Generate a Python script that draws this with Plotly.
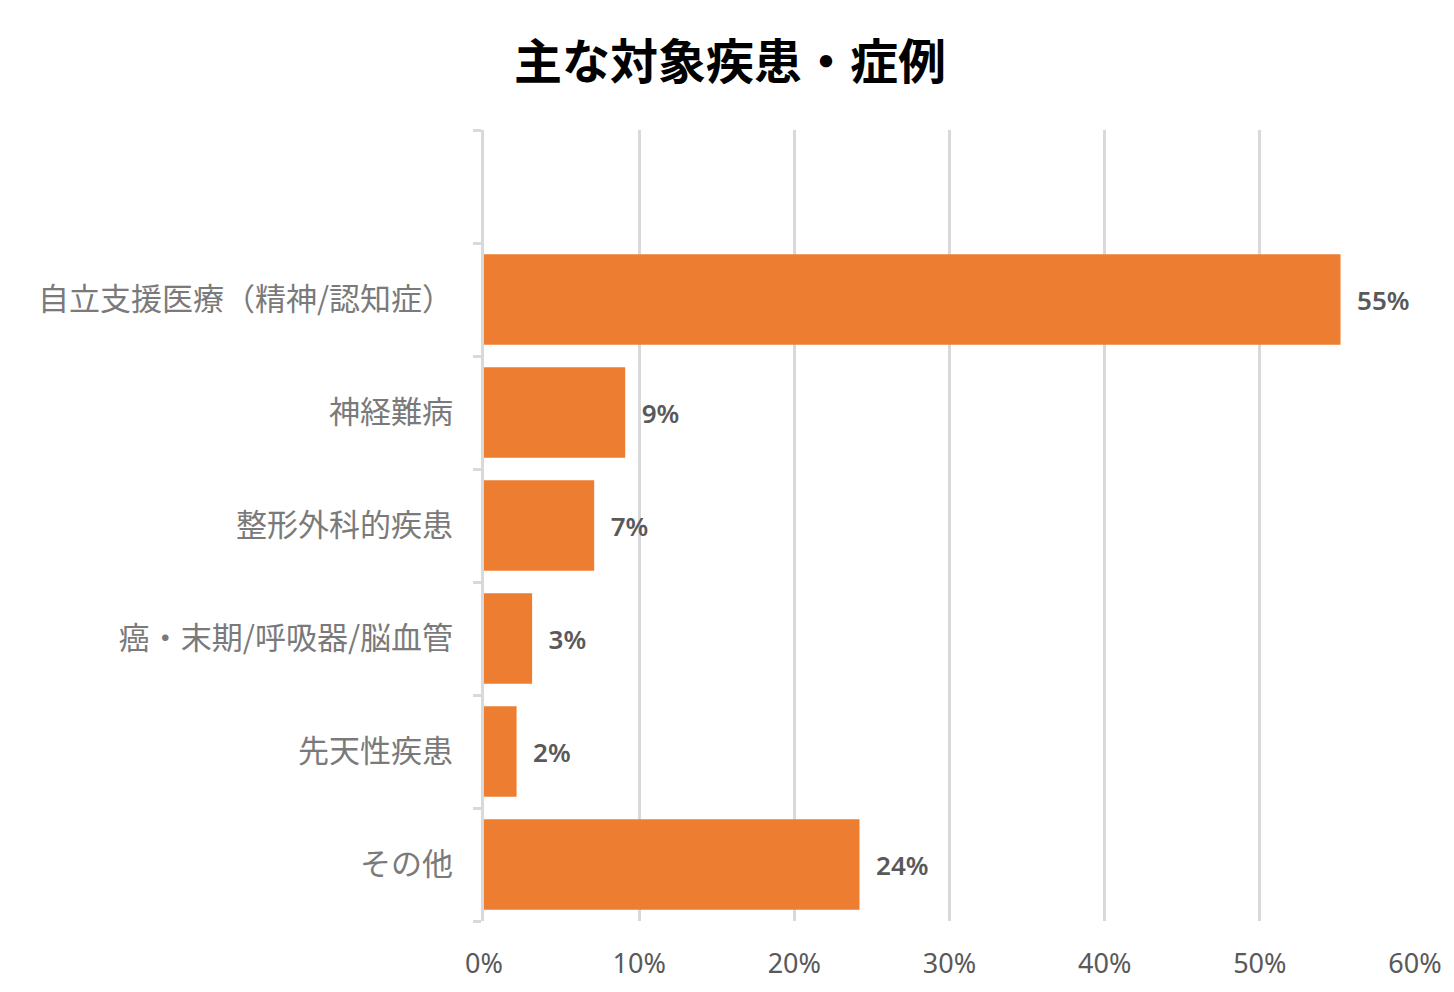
import plotly.graph_objects as go

categories = ["その他", "先天性疾患", "癌・末期/呼吸器/脳血管", "整形外科的疾患", "神経難病", "自立支援医療（精神/認知症）", " "]
values = [0.242, 0.021, 0.031, 0.071, 0.091, 0.552, None]
labels = ["24%", "2%", "3%", "7%", "9%", "55%", ""]
x_ticks = [0, 0.1, 0.2, 0.3, 0.4, 0.5, 0.6]
x_tick_labels = ["0%", "10%", "20%", "30%", "40%", "50%", "60%"]

fig = go.Figure(go.Bar(
    x=values, y=categories, orientation="h",
    marker=dict(color="#ED7D31", line=dict(width=0)),
    text=[("  " + t) if t else "" for t in labels],
    textposition="outside",
    textfont=dict(size=26, color="#595959", family="Noto Sans, Noto Sans CJK JP", weight=600),
    cliponaxis=False,
))

fig.update_layout(
    width=1454, height=992,
    margin=dict(l=484, r=39, t=130, b=71),
    paper_bgcolor="white", plot_bgcolor="white",
    bargap=0.2,
    showlegend=False,
    font=dict(family="Noto Sans CJK JP, Noto Sans", color="#595959"),
    title=dict(text="<b>主な対象疾患・症例</b>", x=730/1454, xanchor="center", xref="container",
               y=1 - 62/992, yanchor="middle", yref="container",
               font=dict(size=48, color="#000000", family="Noto Sans CJK JP")),
    xaxis=dict(
        range=[0, 0.6], tickvals=x_ticks, ticktext=x_tick_labels,
        showgrid=True, gridcolor="#D9D9D9", gridwidth=2.5,
        zeroline=False, showline=False, ticks="",
        tickfont=dict(size=27, color="#595959", family="Noto Sans, Noto Sans CJK JP"),
        ticklabelstandoff=24,
    ),
    yaxis=dict(
        type="category", categoryorder="array", categoryarray=categories,
        range=[-0.5, 6.5],
        showline=True, linecolor="#D9D9D9", linewidth=2.5,
        ticks="outside", ticklen=8, tickcolor="#D9D9D9", tickwidth=2.5,
        tickson="boundaries",
        showgrid=False,
        tickfont=dict(size=31, color="#7A7A7A", family="Noto Sans CJK JP"),
        ticklabelstandoff=22,
    ),
)

fig.write_html("out.html")
